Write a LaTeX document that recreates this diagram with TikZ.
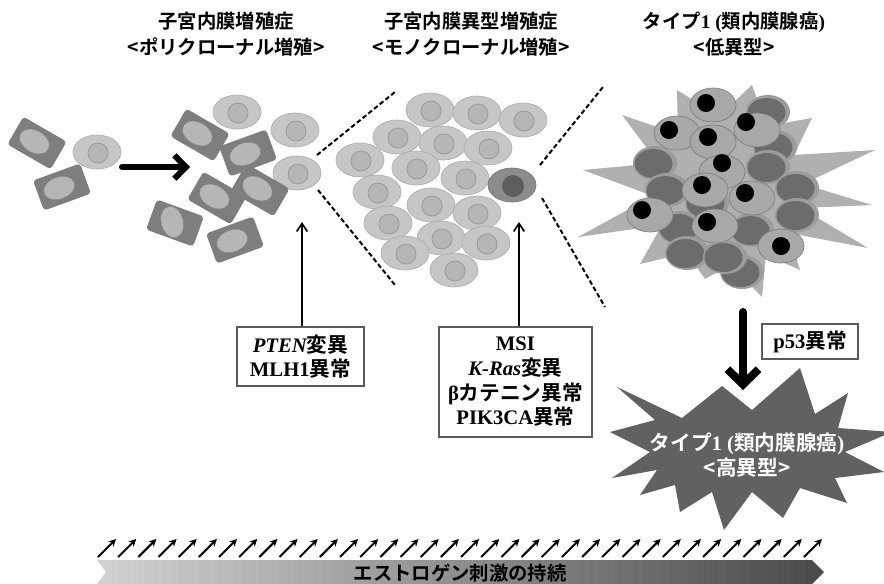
\documentclass[tikz,border=0pt]{standalone}
\usepackage{fontspec}
\setmainfont{Liberation Serif}
\newfontfamily\jp{Noto Sans CJK JP}[BoldFont={* Bold}]
\usetikzlibrary{arrows.meta,calc}

\definecolor{rectbody}{HTML}{7E7E7E}
\definecolor{rectnuc}{HTML}{B6B6B6}
\definecolor{roundbody}{HTML}{C6C6C6}
\definecolor{roundnuc}{HTML}{B6B6B6}
\definecolor{roundrim}{HTML}{9A9A9A}
\definecolor{cloneBody}{HTML}{8C8C8C}
\definecolor{cloneNuc}{HTML}{5E5E5E}
\definecolor{starlight}{HTML}{B0B0B0}
\definecolor{stardark}{HTML}{616161}
\definecolor{tumbody}{HTML}{6C6C6C}
\definecolor{tumrim}{HTML}{9C9C9C}
\definecolor{tumlight}{HTML}{A8A8A8}
\definecolor{boxline}{HTML}{5A5A5A}
\definecolor{bannerL}{HTML}{D2D2D2}
\definecolor{bannerR}{HTML}{4A4A4A}

\tikzset{
  rectcell/.pic={
    \fill[rectbody, rounded corners=2.5pt] (-25,-16) rectangle (25,16);
    \filldraw[fill=rectnuc, draw=rectnuc!75!black, line width=0.4pt,
      rotate around={#1:(-3,0)}] (-3,0) ellipse [x radius=16, y radius=11];
  },
  roundcell/.pic={
    \filldraw[fill=roundbody, draw=roundbody!88!black, line width=0.5pt]
      (0,0) ellipse [x radius=24, y radius=17];
    \filldraw[fill=roundnuc, draw=roundrim, line width=0.6pt] (1,1) circle [radius=10];
  },
  clonecell/.pic={
    \filldraw[fill=cloneBody, draw=cloneBody!85!black, line width=0.5pt]
      (0,0) ellipse [x radius=24, y radius=17];
    \fill[cloneNuc] (1,1) circle [radius=11];
  },
  darkcell/.pic={
    \fill[tumrim] (0,0) ellipse [x radius=22, y radius=17];
    \fill[tumbody] (-1.5,0.5) ellipse [x radius=19, y radius=14.5];
  },
  lightcell/.pic={
    \filldraw[fill=tumlight, draw=tumlight!75!black, line width=0.5pt]
      (0,0) ellipse [x radius=23, y radius=17];
    \fill[black] (#1) circle [radius=9];
  },
  title/.style={align=center, inner sep=0pt,
    font={\jp\bfseries\fontsize{14.5}{20}\selectfont}},
  infobox/.style={draw=boxline, line width=0.8pt, fill=white, align=center,
    inner sep=0pt, font={\bfseries\fontsize{15.5}{18.5}\selectfont}},
  thinup/.style={line width=1.2pt, -{Straight Barb[length=6pt,width=8pt]}},
  bigarrow/.style={line width=#1, line cap=round,
    -{Straight Barb[length=1.9*#1,width=3.9*#1]}},
  cut/.style={line width=1.5pt, dash pattern=on 3.5pt off 2pt},
  tick/.style={line width=1.5pt, -{Stealth[length=5.5pt,width=5.5pt]}},
}

\begin{document}
\begin{tikzpicture}[x=0.75pt,y=-0.75pt]
\useasboundingbox (0,0) rectangle (884,583);
\fill[white] (0,0) rectangle (884,583);

% ---- titles
\node[title] (t1) at (226,34) {子宮内膜増殖症\\<ポリクローナル増殖>};
\node[title] (t2) at (471,34) {子宮内膜異型増殖症\\<モノクローナル増殖>};
\node[title] (t3) at (734,34) {タイプ{\rmfamily 1 (}類内膜腺癌{\rmfamily )}\\<低異型>};

% ---- polyclonal hyperplasia: scattered cells
\pic[rotate=-30] at (37,143) {rectcell=0};
\pic at (97,152) {roundcell};
\pic[rotate=20] at (62,187) {rectcell=0};

\pic at (237,112) {roundcell};
\pic at (295,130) {roundcell};
\pic[rotate=-30] at (200,135) {rectcell=0};
\pic[rotate=20] at (248,153) {rectcell=0};
\pic at (297,173) {roundcell};
\pic[rotate=-30] at (260,190) {rectcell=0};
\pic[rotate=-30] at (217,198) {rectcell=0};
\pic[rotate=-20] at (175,223) {rectcell=-55};
\pic[rotate=20] at (235,240) {rectcell=0};

\coordinate (la0) at (122,167);
\coordinate (la1) at (190,167);
\draw[bigarrow=4.5pt] (la0) -- (la1);

% ---- dashed zoom lines
\coordinate (d1a) at (317,155); \coordinate (d1b) at (395,92);
\coordinate (d2a) at (318,190); \coordinate (d2b) at (395,285);
\coordinate (d3a) at (540,165); \coordinate (d3b) at (603,87);
\coordinate (d4a) at (542,198); \coordinate (d4b) at (605,307);
\draw[cut] (d1a) -- (d1b);
\draw[cut] (d2a) -- (d2b);
\draw[cut] (d3a) -- (d3b);
\draw[cut] (d4a) -- (d4b);

% ---- monoclonal atypical hyperplasia: packed cells
\foreach \p in {(430,110),(477,113),(523,120),(397,137),(443,143),(488,148),
                (360,160),(416,168),(465,178),(377,192),(431,205),(477,213),
                (388,223),(441,238),(486,243),(405,253),(454,270)}
  \pic at \p {roundcell};
\pic at (512,185) {clonecell};

% ---- low-grade carcinoma
\fill[starlight] (752,85) -- (767,126) -- (812,118) -- (794,155) -- (875,150)
  -- (803,184) -- (872,205) -- (801,208) -- (868,248) -- (789,233) -- (800,270)
  -- (766,255) -- (762,297) -- (730,265) -- (705,279) -- (687,253) -- (640,264)
  -- (662,225) -- (578,237) -- (653,196) -- (583,170) -- (658,163) -- (622,115)
  -- (678,134) -- (677,90) -- (719,116) -- cycle;
\foreach \p in {(768,112),(775,147),(655,163),(768,167),(667,190),(707,203),
                (797,188),(797,215),(680,228),(752,230),(687,253),(742,272),(725,257)}
  \pic at \p {darkcell};
\pic at (713,105) {lightcell={-7,-2}};
\pic at (757,130) {lightcell={-11,-8}};
\pic at (677,133) {lightcell={-8,-3}};
\pic at (713,142) {lightcell={-5,-5}};
\pic at (722,172) {lightcell={0,-9}};
\pic at (705,190) {lightcell={-3,-5}};
\pic at (752,198) {lightcell={-7,-5}};
\pic at (650,215) {lightcell={-8,-5}};
\pic at (715,226) {lightcell={-8,-4}};
\pic at (781,246) {lightcell={0,0}};

% ---- high-grade carcinoma
\fill[stardark] (617,387) -- (682,418) -- (722,386) -- (752,410) -- (800,368)
  -- (815,414) -- (848,393) -- (838,428) -- (892,432) -- (845,452) -- (884,472)
  -- (835,478) -- (847,503) -- (800,488) -- (783,518) -- (752,492) -- (724,530)
  -- (712,492) -- (680,512) -- (675,485) -- (640,495) -- (657,470) -- (612,478)
  -- (650,452) -- (610,432) -- (655,420) -- cycle;
\node[title, text=white, font={\jp\bfseries\fontsize{15.5}{19}\selectfont}] (hg) at (747,455)
  {タイプ{\rmfamily 1 (}類内膜腺癌{\rmfamily )}\\<高異型>};

\coordinate (da0) at (743,312);
\coordinate (da1) at (743,390);
\draw[bigarrow=6pt] (da0) -- (da1);

% ---- genetic events
\node[infobox, minimum width=95.25pt, minimum height=44.25pt] (pten) at (300.5,356.5)
  {{\itshape PTEN}{\jp 変異}\\MLH1{\jp 異常}};
\node[infobox, minimum width=114.75pt, minimum height=82.5pt] (msi) at (515.5,382)
  {MSI\\{\itshape K-Ras}{\jp 変異}\\β{\jp カテニン異常}\\PIK3CA{\jp 異常}};
\node[infobox, minimum width=72pt, minimum height=26.25pt] (p53) at (810,341.5)
  {p53{\jp 異常}};

\coordinate (ptip) at (302,222);
\coordinate (mtip) at (519,222);
\draw[thinup] (pten.north -| ptip) -- (ptip);
\draw[thinup] (msi.north -| mtip) -- (mtip);

% ---- estrogen exposure
\foreach \i in {0,...,35}
  \draw[tick] ({98+\i*20.17},557) -- ({116+\i*20.17},539);
\shade[left color=bannerL, right color=bannerR]
  (97,560) -- (812,560) -- (824,572) -- (812,584) -- (97,584) -- (106,572) -- cycle;
\node[title] (est) at (460,573) {エストロゲン刺激の持続};
\end{tikzpicture}
\end{document}
